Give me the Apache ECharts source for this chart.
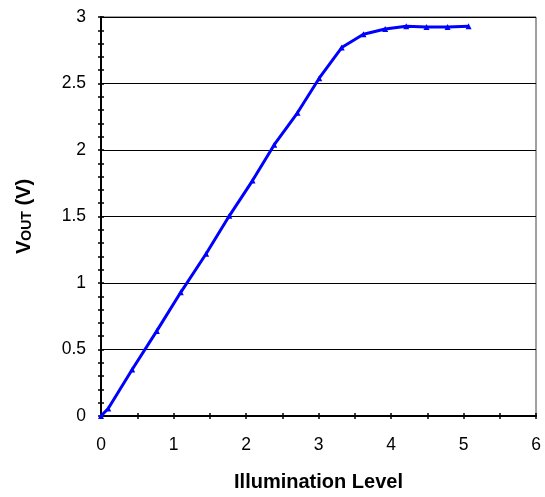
<!DOCTYPE html>
<html><head><meta charset="utf-8">
<script src="https://cdn.jsdelivr.net/npm/echarts@6/dist/echarts.min.js"></script>
<style>html,body{margin:0;padding:0;background:#fff}#c{width:545px;height:497px}</style>
</head><body><div id="c"></div>
<script>
const illumination = [0, 0.10, 0.43, 0.77, 1.10, 1.45, 1.77, 2.09, 2.39, 2.71, 3.01, 3.32, 3.62, 3.92, 4.21, 4.49, 4.78, 5.07];
const vout = [0, 0.057, 0.35, 0.64, 0.93, 1.22, 1.505, 1.77, 2.04, 2.28, 2.54, 2.77, 2.87, 2.91, 2.93, 2.925, 2.925, 2.93];
const xTicks = [0, 1, 2, 3, 4, 5, 6];
const yTicks = [0, 0.5, 1, 1.5, 2, 2.5, 3];

const pts = illumination.map((x, i) => [x, vout[i]]);
const font = 'Liberation Sans, Arial, sans-serif';
const chart = echarts.init(document.getElementById('c'));
chart.setOption({
  animation: false,
  grid: {left: 101, right: 9, top: 17, bottom: 76, show: true, borderColor: '#404040', borderWidth: 1, backgroundColor: 'transparent'},
  xAxis: [{
    type: 'value', min: 0, max: 6, interval: 0.5,
    name: 'Illumination Level', nameLocation: 'middle', nameGap: 56,
    nameTextStyle: {fontFamily: font, fontWeight: 'bold', fontSize: 20, color: '#000'},
    axisLine: {show: true, lineStyle: {color: '#000', width: 2}},
    axisTick: {show: true, length: 3, lineStyle: {color: '#000', width: 1.5}},
    axisLabel: {margin: 20, fontFamily: font, fontSize: 17.5, color: '#000',
      formatter: v => (xTicks.indexOf(v) >= 0 ? String(v) : '')},
    splitLine: {show: false}
  }, {
    type: 'value', min: 0, max: 6, interval: 0.5, position: 'bottom',
    axisLine: {show: false}, axisTick: {show: true, inside: true, length: 3, lineStyle: {color: '#000', width: 1.5}},
    axisLabel: {show: false}, splitLine: {show: false}
  }],
  yAxis: [{
    type: 'value', min: 0, max: 3, interval: 0.5,
    name: '{a|V}{b|OUT}{a| (V)}', nameLocation: 'middle', nameGap: 67, nameRotate: 90,
    nameTextStyle: {rich: {
      a: {fontFamily: font, fontWeight: 'bold', fontSize: 20, color: '#000'},
      b: {fontFamily: font, fontWeight: 'bold', fontSize: 14, color: '#000', verticalAlign: 'bottom', padding: [6, 0, 0, 0]}
    }},
    axisLine: {show: true, lineStyle: {color: '#000', width: 2}},
    axisTick: {show: true, length: 3, lineStyle: {color: '#000', width: 1.5}},
    minorTick: {show: true, splitNumber: 5, length: 3, lineStyle: {color: '#000', width: 1.5}},
    axisLabel: {margin: 15, fontFamily: font, fontSize: 17.5, color: '#000',
      formatter: v => (yTicks.indexOf(v) >= 0 ? String(v) : '')},
    splitLine: {show: true, lineStyle: {color: '#000', width: 1}}
  }, {
    type: 'value', min: 0, max: 3, interval: 0.1, position: 'left',
    axisLine: {show: false}, axisTick: {show: true, inside: true, length: 3, lineStyle: {color: '#000', width: 1.5}},
    axisLabel: {show: false}, splitLine: {show: false}
  }],
  series: [{
    type: 'line', data: pts, xAxisIndex: 0, yAxisIndex: 0,
    symbol: 'triangle', symbolSize: 6, showSymbol: true,
    lineStyle: {color: '#0000FF', width: 3},
    itemStyle: {color: '#0000FF'}
  }]
});
</script></body></html>
